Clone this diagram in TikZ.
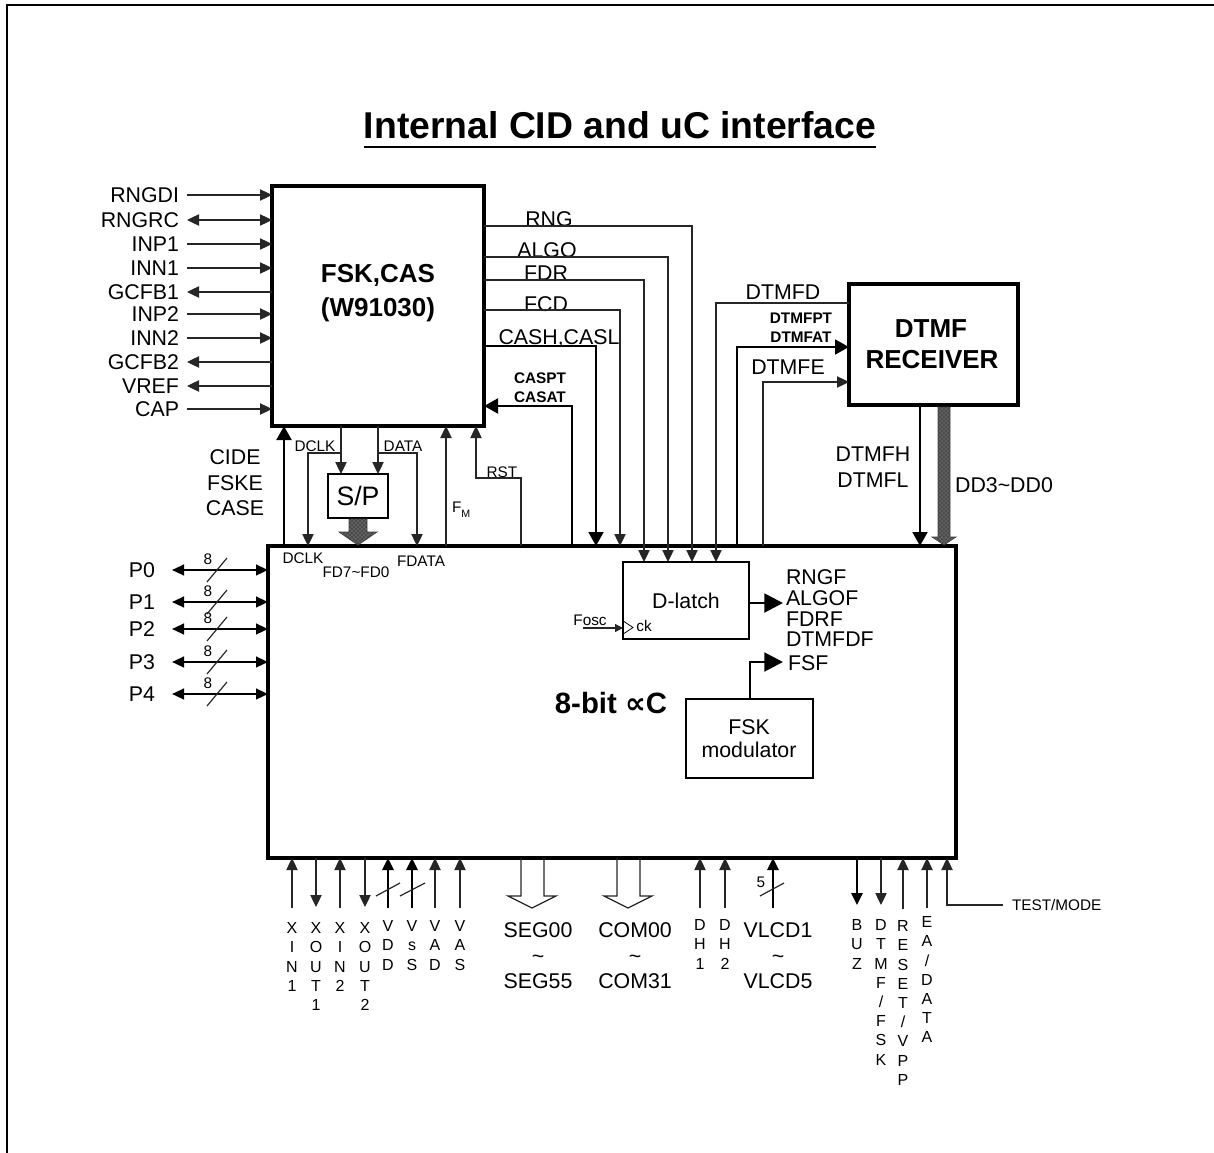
\documentclass[tikz,border=0pt]{standalone}
\usepackage{fontspec}
\setmainfont{Liberation Sans}
\newfontfamily\symfam{DejaVu Sans}
\usetikzlibrary{arrows.meta,fit,patterns}
\newcommand\vstack[3]{\foreach \vch [count=\vi] in {#3} {\node[vl] at (#1,{#2+19.2*(\vi-1)}) {\vch};}}
\begin{document}
\begin{tikzpicture}[x=0.75pt,y=-0.75pt,
 every node/.style={inner sep=0pt, outer sep=0pt},
 lab/.style={font=\fontsize{16}{19}\selectfont, text height=11.5pt, text depth=0pt},
 sml/.style={font=\fontsize{11.5}{13}\selectfont, text height=8.2pt, text depth=0pt},
 sbf/.style={font=\fontsize{11.5}{13}\selectfont\bfseries, text height=8.3pt, text depth=0pt},
 vl/.style={font=\fontsize{12}{14}\selectfont, text height=8.6pt, text depth=0pt},
 bt/.style={font=\fontsize{19.5}{23}\selectfont\bfseries, text height=14pt, text depth=0pt},
 box/.style={draw, line width=2.6pt},
 sbox/.style={draw, line width=1.4pt},
 thn/.style={line width=0.9pt, draw=black!85},
 thk/.style={line width=2.2pt, draw=black},
 mid/.style={line width=1.6pt, draw=black},
 ta/.style={-{Triangle[length=9pt,width=8.5pt]}},
 tas/.style={{Triangle[length=9pt,width=8.5pt]}-},
 tab/.style={{Triangle[length=9pt,width=8.5pt]}-{Triangle[length=9pt,width=8.5pt]}},
 tb/.style={-{Triangle[length=10.5pt,width=11pt]}},
 tbig/.style={-{Triangle[length=14pt,width=14pt]}},
 bus/.style={fill=black!62, draw=black!75, line width=0.5pt},
 hatch/.style={pattern=crosshatch dots, pattern color=black}
]
\useasboundingbox (0,0) rectangle (1214,1153);
% frame
\draw[line width=1.6pt] (1214,5) -- (7,5) -- (7,1153);
% title
\node[font=\fontsize{28}{32}\selectfont\bfseries, text height=20pt, text depth=0pt] (title) at (620,125) {Internal CID and uC interface};
\draw[line width=2.2pt] ([yshift=-6.5pt]title.south west) -- ([yshift=-6.5pt]title.south east);
% boxes
\node[box, fit={(272,186)(484,426)}] (fsk) {};
\node[box, fit={(268,546)(956,858)}] (uc) {};
\node[box, fit={(849,284)(1018,405)}] (dtmf) {};
\node[sbox, fit={(328,474)(388,518)}] (sp) {};
\node[sbox, fit={(623,562)(749,639)}] (dl) {};
\node[sbox, fit={(686,699)(813,778)}] (mod) {};
% box texts
\node[bt] (fskt1) at (378,273) {FSK,CAS};
\node[bt] (fskt2) at (378,307) {(W91030)};
\node[bt] (dtt1) at (931,328) {DTMF};
\node[bt] (dtt2) at (932,359) {RECEIVER};
\node[font=\fontsize{20}{22}\selectfont, text height=14.3pt, text depth=0pt] (spt) at (358,496) {S/P};
\node[lab] (dlt) at (686,601) {D-latch};
\node[lab] (modt1) at (749,727) {FSK};
\node[lab] (modt2) at (749,750) {modulator};
\node[font=\fontsize{22}{26}\selectfont\bfseries, text height=15.8pt, text depth=0pt] (uct) at (611,703) {8-bit {\symfam ∝}C};
% left pins of FSK,CAS
\foreach \t/\y/\s in {RNGDI/195/ta, RNGRC/220/tab, INP1/244/ta, INN1/268/ta, GCFB1/292/tas, INP2/314/ta, INN2/338/ta, GCFB2/362/tas, VREF/386/tas, CAP/409/ta}{
  \node[lab, anchor=east] (p\t) at (179,\y) {\t};
  \draw[thn,\s] ([xshift=6pt]p\t.east) -- (fsk.west |- 0,\y);
}
% top signals
\node[lab] (lrng) at (549,219) {RNG};
\node[lab] (lalgo) at (547,250) {ALGO};
\node[lab] (lfdr) at (546,273) {FDR};
\node[lab] (lfcd) at (546,304) {FCD};
\node[lab] (lcash) at (559,337) {CASH,CASL};
\draw[thn,ta] (fsk.east |- 0,226) -- (692,226) -- (692,0 |- dl.north);
\draw[thn,ta] (fsk.east |- 0,257) -- (668,257) -- (668,0 |- dl.north);
\draw[thn,ta] (fsk.east |- 0,280) -- (644,280) -- (644,0 |- dl.north);
\draw[thn,ta] (fsk.east |- 0,310) -- (620,310) -- (620,0 |- uc.north);
\draw[thk,tb] (fsk.east |- 0,346) -- (596,346) -- (596,0 |- uc.north);
\node[sbf] (lcaspt) at (540,378) {CASPT};
\node[sbf] (lcasat) at (540,397) {CASAT};
\draw[thk,tb] (572,0 |- uc.north) -- (572,406) -- (fsk.east |- 0,406);
\draw[thn,ta] (521,0 |- uc.north) -- (521,478) -- (476,478) -- (476,0 |- fsk.south);
\node[sml] (lrst) at (502,472) {RST};
\draw[thn,ta] (446,0 |- uc.north) -- (446,0 |- fsk.south);
\node[sml, anchor=west] (lfm) at (452,507) {F\raisebox{-4pt}{\fontsize{8}{9}\selectfont M}};
\draw[thk,tb] (284,0 |- uc.north) -- (284,0 |- fsk.south);
\node[lab] (lcide) at (235,457) {CIDE};
\node[lab] (lfske) at (235,483) {FSKE};
\node[lab] (lcase) at (235,508) {CASE};
% DCLK / DATA and S/P
\draw[thn,ta] (341,0 |- fsk.south) -- (341,0 |- sp.north);
\draw[thn,ta] (341,453) -- (308,453) -- (308,0 |- uc.north);
\node[sml] (ldclk) at (315,446) {DCLK};
\draw[thn,ta] (378,0 |- fsk.south) -- (378,0 |- sp.north);
\draw[thn,ta] (378,453) -- (417,453) -- (417,0 |- uc.north);
\node[sml] (ldata) at (403,446) {DATA};
\filldraw[bus] (349,519) -- (367,519) -- (367,532) -- (377,532) -- (358,545) -- (339,532) -- (349,532) -- cycle;
\fill[hatch] (349,519) -- (367,519) -- (367,532) -- (377,532) -- (358,545) -- (339,532) -- (349,532) -- cycle;
\node[sml] (ldclk2) at (303,558) {DCLK};
\node[sml] (lfd) at (356,572) {FD7\textasciitilde FD0};
\node[sml] (lfdata) at (421,561) {FDATA};
% DTMF receiver signals
\draw[thn,ta] (dtmf.west |- 0,303) -- (716,303) -- (716,0 |- dl.north);
\node[lab] (ldtmfd) at (783,292) {DTMFD};
\draw[thk,tb] (737,0 |- uc.north) -- (737,347) -- (dtmf.west |- 0,347);
\node[sbf] (ldtpt) at (801,318) {DTMFPT};
\node[sbf] (ldtat) at (801,337) {DTMFAT};
\draw[thn,ta] (763,0 |- uc.north) -- (763,382) -- (dtmf.west |- 0,382);
\node[lab] (ldtmfe) at (788,367) {DTMFE};
\draw[thk,tb] (920,0 |- dtmf.south) -- (920,0 |- uc.north);
\node[lab] (ldtmfh) at (873,454) {DTMFH};
\node[lab] (ldtmfl) at (873,480) {DTMFL};
\filldraw[bus] (938,407) -- (950,407) -- (950,537) -- (956,537) -- (944,545) -- (932,537) -- (938,537) -- cycle;
\fill[hatch] (938,407) -- (950,407) -- (950,537) -- (956,537) -- (944,545) -- (932,537) -- (938,537) -- cycle;
\node[lab] (ldd) at (1004,485) {DD3\textasciitilde DD0};
% D-latch
\node[sml] (lfosc) at (590,620) {Fosc};
\draw[thn,-{Triangle[length=6pt,width=6pt]}] (583,628) -- (dl.west |- 0,628);
\draw[line width=0.6pt] (624,621.5) -- (633,627.5) -- (624,633.5);
\node[sml] (lck) at (644,626) {ck};
\draw[thk,tbig] (dl.east |- 0,603) -- (783,603);
\node[lab, anchor=west] (lrngf) at (786,577) {RNGF};
\node[lab, anchor=west] (lalgof) at (786,598) {ALGOF};
\node[lab, anchor=west] (lfdrf) at (786,619) {FDRF};
\node[lab, anchor=west] (ldtmfdf) at (786,639) {DTMFDF};
\draw[thk,tbig] (750,0 |- mod.north) -- (750,662) -- (783,662);
\node[lab, anchor=west] (lfsf) at (788,663) {FSF};
% ports P0..P4
\foreach \n/\y in {0/570,1/602,2/629,3/662,4/694}{
  \node[lab] (P\n) at (142,\y) {P\n};
  \draw[mid,{Triangle[length=9pt,width=8pt]}-{Triangle[length=9pt,width=8pt]}] (172,\y) -- (uc.west |- 0,\y);
  \draw[thn] (207,{\y+12}) -- (227,{\y-12});
  \node[sml] (n8\n) at (208,{\y-11}) {8};
}
% bottom pins
\foreach \x in {292,340,435,460} \draw[thn,ta] (\x,908) -- (\x,0 |- uc.south);
\foreach \x in {316,365} \draw[thn,ta] (\x,0 |- uc.south) -- (\x,907);
\foreach \x in {388,412} \draw[mid,ta] (\x,908) -- (\x,0 |- uc.south);
\draw[thn] (376,896) -- (400,883);
\draw[thn] (400,896) -- (425,883);
\vstack{292}{928}{X,I,N,1}
\vstack{316}{928}{X,O,U,T,1}
\vstack{340}{928}{X,I,N,2}
\vstack{365}{928}{X,O,U,T,2}
\vstack{388}{926}{V,D,D}
\vstack{412}{926}{V,s,S}
\vstack{435}{926}{V,A,D}
\vstack{460}{926}{V,A,S}
% SEG / COM outputs
\draw[thn] (521,0 |- uc.south) -- (521,896) -- (508,896) -- (532,908) -- (556,896) -- (544,896) -- (544,0 |- uc.south);
\draw[thn] (617,0 |- uc.south) -- (617,896) -- (604,896) -- (628,908) -- (652,896) -- (640,896) -- (640,0 |- uc.south);
\node[lab] (lseg0) at (538,930) {SEG00};
\node[lab] (lsegt) at (538,956) {\textasciitilde};
\node[lab] (lseg5) at (538,981) {SEG55};
\node[lab] (lcom0) at (635,930) {COM00};
\node[lab] (lcomt) at (635,956) {\textasciitilde};
\node[lab] (lcom3) at (635,981) {COM31};
% DH, VLCD
\foreach \x in {700,725} \draw[thn,ta] (\x,908) -- (\x,0 |- uc.south);
\vstack{700}{925}{D,H,1}
\vstack{725}{925}{D,H,2}
\draw[mid,ta] (773,908) -- (773,0 |- uc.south);
\draw[thn] (760,896) -- (784,883);
\node[sml] (n5) at (761,882) {5};
\node[lab] (lv1) at (778,930) {VLCD1};
\node[lab] (lvt) at (778,956) {\textasciitilde};
\node[lab] (lv5) at (778,981) {VLCD5};
% right bottom pins
\draw[line width=1.2pt,ta] (857,0 |- uc.south) -- (857,905);
\draw[thn,ta] (881,0 |- uc.south) -- (881,905);
\draw[thn,ta] (903,909) -- (903,0 |- uc.south);
\draw[thn,ta] (927,908) -- (927,0 |- uc.south);
\node[sml, anchor=west] (ltest) at (1012,905) {TEST/MODE};
\draw[thn,ta] (ltest.west) ++(-9,0) -- (947,905) -- (947,0 |- uc.south);
\vstack{857}{925}{B,U,Z}
\vstack{881}{925}{D,T,M,F,/,F,S,K}
\vstack{903}{926}{R,E,S,E,T,/,V,P,P}
\vstack{927}{922}{E,A,/,D,A,T,A}
\end{tikzpicture}
\end{document}
